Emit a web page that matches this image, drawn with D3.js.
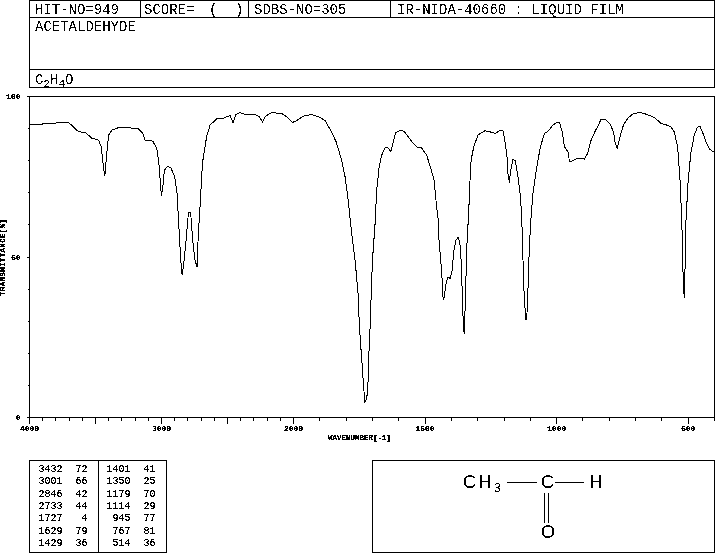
<!DOCTYPE html>
<html>
<head>
<meta charset="utf-8">
<script src="https://cdnjs.cloudflare.com/ajax/libs/d3/7.8.5/d3.min.js"></script>
<style>
  html, body { margin: 0; padding: 0; background: #fff; }
  svg { display: block; }
  text { font-family: "Liberation Mono", monospace; fill: #000; }
  .box { fill: none; stroke: #000; stroke-width: 1; shape-rendering: crispEdges; }
</style>
</head>
<body>
<div id="chart"></div>
<script>
// spectrum (cm-1, %T)
const wavenumbers = [
  3999, 3969, 3918, 3880, 3817, 3780, 3704, 3679, 3628, 3578, 3527, 3477, 3457, 3439, 3429, 3419,
  3401, 3376, 3326, 3250, 3175, 3142, 3124, 3066, 3036, 3021, 3011, 3001, 2990, 2978, 2953, 2930,
  2900, 2882, 2867, 2854, 2844, 2834, 2814, 2796, 2779, 2764, 2746, 2731, 2721, 2708, 2690, 2658,
  2632, 2582, 2532, 2481, 2458, 2436, 2405, 2368, 2292, 2259, 2236, 2211, 2166, 2090, 2052, 2009,
  1988, 1962, 1933, 1905, 1880, 1861, 1838, 1817, 1804, 1792, 1779, 1766, 1759, 1754, 1750, 1745,
  1740, 1735, 1731, 1730, 1725, 1720, 1716, 1713, 1708, 1703, 1699, 1690, 1684, 1675, 1665, 1652,
  1644, 1630, 1621, 1612, 1595, 1580, 1564, 1545, 1532, 1513, 1494, 1478, 1466, 1456, 1450, 1447,
  1440, 1435, 1433, 1429, 1424, 1419, 1413, 1404, 1397, 1391, 1383, 1375, 1368, 1362, 1358, 1354,
  1351, 1347, 1343, 1339, 1335, 1331, 1325, 1315, 1299, 1273, 1254, 1232, 1219, 1204, 1195, 1187,
  1184, 1180, 1174, 1166, 1157, 1147, 1137, 1131, 1125, 1122, 1119, 1117, 1113, 1112, 1109, 1105,
  1099, 1090, 1077, 1062, 1046, 1031, 1014, 999, 989, 979, 970, 957, 951, 938, 920, 894,
  882, 869, 853, 844, 831, 815, 797, 784, 777, 770, 759, 746, 730, 711, 686, 660,
  629, 603, 585, 566, 553, 540, 531, 524, 518, 514, 509, 500, 490, 477, 465, 456,
  446, 430, 418, 404
]
const transmittance = [
  91.1, 91.3, 91.3, 91.6, 91.6, 91.9, 91.9, 91.0, 89.0, 88.8, 87.0, 86.4, 84.4, 77.6, 75.4, 80.2,
  88.0, 89.5, 90.3, 90.3, 89.9, 88.5, 86.4, 86.1, 83.8, 79.7, 74.5, 69.0, 71.9, 77.1, 78.2, 77.9,
  75.0, 69.8, 58.4, 49.0, 44.5, 46.9, 55.2, 63.8, 63.8, 55.2, 49.0, 46.9, 57.3, 65.6, 79.2, 87.5,
  91.1, 93.0, 93.2, 94.1, 91.9, 94.4, 95.0, 94.4, 94.4, 93.7, 92.1, 93.9, 95.0, 94.7, 93.7, 91.9,
  92.5, 93.9, 94.4, 93.7, 92.5, 89.8, 85.9, 80.2, 75.0, 67.7, 57.3, 49.0, 42.7, 38.1, 29.2, 23.0,
  17.3, 11.5, 6.9, 4.8, 5.1, 7.1, 12.1, 20.9, 29.7, 42.7, 50.0, 60.4, 70.8, 77.6, 81.7, 84.1,
  84.3, 82.9, 85.9, 88.7, 89.4, 89.2, 87.5, 85.4, 84.3, 84.0, 81.7, 77.6, 74.0, 65.6, 61.5, 55.2,
  48.5, 42.7, 38.1, 36.7, 39.6, 42.2, 43.8, 43.3, 45.9, 51.6, 55.2, 56.1, 54.7, 48.0, 36.5, 27.7,
  26.1, 36.0, 48.0, 58.4, 61.5, 71.0, 80.2, 84.3, 88.0, 89.3, 89.0, 88.5, 89.3, 89.4, 85.4, 80.2,
  74.5, 73.7, 77.1, 80.4, 80.0, 75.0, 68.7, 58.4, 41.2, 36.5, 32.6, 30.5, 30.5, 35.5, 39.6, 50.0,
  60.4, 69.8, 77.1, 84.3, 88.5, 89.3, 91.1, 91.9, 91.9, 89.0, 84.3, 82.8, 79.7, 80.0, 80.8, 80.5,
  82.3, 86.4, 89.3, 90.6, 92.9, 92.9, 91.4, 89.0, 85.4, 83.8, 87.5, 91.1, 93.2, 94.5, 95.1, 94.5,
  93.5, 91.6, 91.2, 90.6, 89.0, 84.3, 74.0, 60.4, 39.6, 37.3, 60.4, 74.0, 82.3, 88.0, 90.4, 90.8,
  89.0, 85.4, 83.5, 82.8
]

// axis ticks
const xMajor = [4000, 3500, 3000, 2500, 2000, 1500, 1000, 500]
const xLabeled = [4000, 3000, 2000, 1500, 1000, 500]
const xMinor = d3.range(3900, 300, -100)
const yLabeled = [100, 50, 0]
const yMinor = [90, 80, 70, 60, 40, 30, 20, 10]

// peak table
const peakWave1 = [3432, 3001, 2846, 2733, 1727, 1629, 1429]
const peakTrans1 = [72, 66, 42, 44, 4, 79, 36]
const peakWave2 = [1401, 1350, 1179, 1114, 945, 767, 514]
const peakTrans2 = [41, 25, 70, 29, 77, 81, 36]

const w = 715, h = 553
let svg = d3.select('#chart').append('svg').attr('width', w).attr('height', h)

// hard alpha thresholds, give the text the plotter's bitmap look
let defs = svg.append('defs')
function addFilter (id, table) {
  defs.append('filter').attr('id', id)
    .attr('x', '-5%').attr('y', '-5%').attr('width', '110%').attr('height', '110%')
    .append('feComponentTransfer').append('feFuncA')
    .attr('type', 'discrete').attr('tableValues', table)
}
addFilter('bitmap', '0 0 1 1')
addFilter('bitmapSmall', '0 1 1')

let x = d3.scaleLinear().domain([4000, 2000, 400]).range([29.5, 293.5, 714.5])
let y = d3.scaleLinear().domain([0, 100]).range([417.5, 96.5])

// header boxes
let header = svg.append('g')
header.append('rect').attr('class', 'box').attr('x', 29.5).attr('y', 0.5).attr('width', 685).attr('height', 87)
header.selectAll('line.h').data([17.5, 69.5]).enter().append('line').attr('class', 'box h')
  .attr('x1', 29.5).attr('x2', 714.5).attr('y1', d => d).attr('y2', d => d)
header.selectAll('line.v').data([140.5, 248.5, 390.5]).enter().append('line').attr('class', 'box v')
  .attr('x1', d => d).attr('x2', d => d).attr('y1', 0.5).attr('y2', 17.5)

let headText = svg.append('g').attr('filter', 'url(#bitmap)').attr('font-size', 14)
headText.append('text').attr('x', 35).attr('y', 14).text('HIT-NO=949')
headText.append('text').attr('x', 144).attr('y', 14).text('SCORE=')
headText.append('text').attr('x', 209).attr('y', 14).text('(')
headText.append('text').attr('x', 235).attr('y', 14).text(')')
headText.append('text').attr('x', 254).attr('y', 14).text('SDBS-NO=305')
headText.append('text').attr('x', 397).attr('y', 14).text('IR-NIDA-40660 : LIQUID FILM')
headText.append('text').attr('x', 35).attr('y', 31).text('ACETALDEHYDE')
let formula = headText.append('text').attr('x', 35).attr('y', 83.5)
formula.append('tspan').text('C')
formula.append('tspan').attr('dy', 3).attr('font-size', 11).text('2')
formula.append('tspan').attr('dy', -3).text('H')
formula.append('tspan').attr('dy', 3).attr('font-size', 11).text('4')
formula.append('tspan').attr('dy', -3).text('O')

// plot frame
svg.append('rect').attr('class', 'box').attr('x', x(4000)).attr('y', y(100))
  .attr('width', x(400) - x(4000)).attr('height', y(0) - y(100))

// axes
let axisG = svg.append('g')
let xAxisMinor = d3.axisBottom(x).tickValues(xMinor).tickSize(3).tickFormat('').offset(0)
let xAxisMajor = d3.axisBottom(x).tickValues(xMajor).tickSize(6).offset(0)
  .tickFormat(d => xLabeled.includes(d) ? d : '')
let yAxisMinor = d3.axisLeft(y).tickValues(yMinor).tickSize(2).tickFormat('').offset(0)
let yAxisMajor = d3.axisLeft(y).tickValues(yLabeled).tickSize(3).offset(0)

axisG.append('g').attr('transform', `translate(0, ${y(0)})`).call(xAxisMinor)
axisG.append('g').attr('class', 'xmajor').attr('transform', `translate(0, ${y(0)})`).call(xAxisMajor)
axisG.append('g').attr('transform', `translate(${x(4000)}, 0)`).call(yAxisMinor)
axisG.append('g').attr('class', 'ymajor').attr('transform', `translate(${x(4000)}, 0)`).call(yAxisMajor)
axisG.selectAll('.domain').remove()
axisG.selectAll('line').attr('stroke', '#000').attr('shape-rendering', 'crispEdges')
axisG.selectAll('text').attr('font-family', '"Liberation Mono", monospace').attr('font-size', 8)
  .attr('font-weight', 'bold').attr('fill', '#000').attr('filter', 'url(#bitmapSmall)')
axisG.select('.xmajor').selectAll('text').attr('y', 8).attr('dy', '0.7em')
axisG.select('.ymajor').selectAll('text').attr('x', -9).attr('dy', '0.32em')

// axis titles
let titles = svg.append('g').attr('filter', 'url(#bitmapSmall)').attr('font-size', 7.5).attr('font-weight', 'bold')
titles.append('text').attr('x', 328).attr('y', 440).text('WAVENUMBER[-1]')
titles.append('text').attr('transform', 'translate(5, 296) rotate(-90)').attr('textLength', 77).text('TRANSMITTANCE[%]')

// spectrum
let line = d3.line().x(d => x(d[0])).y(d => y(d[1]))
svg.append('path').datum(d3.zip(wavenumbers, transmittance))
  .attr('d', line).attr('fill', 'none').attr('stroke', '#000').attr('stroke-width', 1)
  .attr('shape-rendering', 'crispEdges')

// peak table
let table = svg.append('g')
table.append('rect').attr('class', 'box').attr('x', 29.5).attr('y', 460.5).attr('width', 137).attr('height', 92)
table.append('line').attr('class', 'box').attr('x1', 98.5).attr('x2', 98.5).attr('y1', 460.5).attr('y2', 552.5)

let rowY = d3.scalePoint().domain(d3.range(7)).range([472, 546])
let columns = [[peakWave1, 62.5], [peakTrans1, 87.5], [peakWave2, 130.5], [peakTrans2, 155.5]]
let tableText = table.append('g').attr('filter', 'url(#bitmapSmall)').attr('font-size', 10)
columns.forEach(c => {
  tableText.selectAll(null).data(c[0]).enter().append('text')
    .attr('x', c[1]).attr('y', (d, i) => rowY(i)).attr('text-anchor', 'end').text(d => d)
})

// structure box
let mol = svg.append('g')
mol.append('rect').attr('class', 'box').attr('x', 372.5).attr('y', 460.5).attr('width', 342).attr('height', 92)
let bonds = [[507, 482, 537, 482], [555, 482, 584, 482], [544, 493, 544, 523], [548, 493, 548, 523]]
mol.selectAll('line').data(bonds).enter().append('line').attr('class', 'box')
  .attr('x1', d => d[0]).attr('y1', d => d[1]).attr('x2', d => d[2]).attr('y2', d => d[3])
let molText = mol.append('g').attr('filter', 'url(#bitmap)').attr('font-size', 18)
let sans = '"Liberation Sans", sans-serif'
let ch3 = molText.append('text').attr('x', 463).attr('y', 488).style('font-family', sans).style('letter-spacing', '2.5px')
ch3.append('tspan').text('CH')
ch3.append('tspan').attr('dy', 4).attr('font-size', 12).text('3')
molText.append('text').attr('x', 541).attr('y', 488).style('font-family', sans).text('C')
molText.append('text').attr('x', 589.5).attr('y', 488).style('font-family', sans).text('H')
molText.append('text').attr('x', 541).attr('y', 538).style('font-family', sans).text('O')
</script>
</body>
</html>
